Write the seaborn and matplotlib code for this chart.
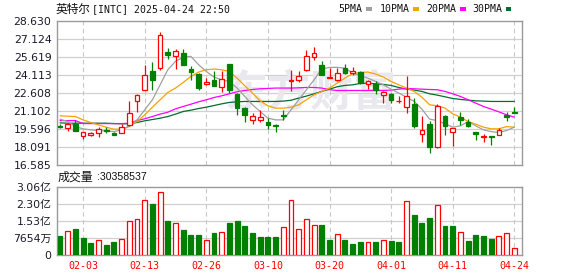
import matplotlib
matplotlib.use("Agg")
import matplotlib.pyplot as plt
import seaborn as sns
import numpy as np
from matplotlib.patches import Rectangle

# ---------------- data ----------------
dates = ["01-29", "01-30", "01-31", "02-03", "02-04", "02-05", "02-06", "02-07", "02-10", "02-11",
         "02-12", "02-13", "02-14", "02-18", "02-19", "02-20", "02-21", "02-24", "02-25", "02-26",
         "02-27", "02-28", "03-03", "03-04", "03-05", "03-06", "03-07", "03-10", "03-11", "03-12",
         "03-13", "03-14", "03-17", "03-18", "03-19", "03-20", "03-21", "03-24", "03-25", "03-26",
         "03-27", "03-28", "03-31", "04-01", "04-02", "04-03", "04-04", "04-07", "04-08", "04-09",
         "04-10", "04-11", "04-14", "04-15", "04-16", "04-17", "04-21", "04-22", "04-23", "04-24"]

opens = [19.83, 19.72, 20.03, 18.97, 19.13, 19.24, 19.50, 19.30, 19.30, 19.92,
         21.98, 22.88, 24.41, 24.66, 26.06, 25.67, 25.95, 24.58, 24.21, 23.35,
         23.71, 23.07, 25.05, 22.54, 21.37, 20.33, 20.33, 20.19, 19.94, 20.75,
         23.63, 23.71, 24.49, 25.61, 24.94, 23.85, 23.66, 24.69, 24.27, 24.35,
         23.38, 23.35, 22.43, 22.54, 21.93, 21.42, 21.70, 19.16, 20.03, 18.05,
         20.69, 19.33, 20.58, 20.17, 19.33, 18.94, 19.00, 19.10, 20.75, 21.06]
highs = [20.03, 20.00, 20.36, 19.38, 19.36, 19.80, 19.75, 19.36, 20.03, 21.90,
         22.54, 24.92, 25.22, 27.68, 26.37, 26.31, 26.31, 24.83, 24.27, 23.85,
         24.46, 24.46, 25.05, 22.60, 21.43, 20.92, 21.20, 20.50, 20.03, 21.20,
         24.55, 24.41, 26.23, 26.45, 25.28, 24.69, 24.69, 25.05, 24.77, 24.41,
         23.71, 23.58, 22.76, 22.60, 22.32, 23.99, 22.18, 20.69, 20.30, 21.70,
         20.78, 19.72, 21.06, 20.41, 19.38, 19.19, 19.00, 19.66, 21.03, 21.43]
lows = [19.64, 19.47, 19.41, 18.80, 19.05, 18.91, 19.24, 19.08, 19.24, 19.86,
        20.98, 22.82, 22.88, 24.55, 25.47, 24.61, 24.92, 23.66, 22.88, 23.27,
        23.16, 22.65, 22.60, 20.78, 20.22, 20.05, 20.22, 19.61, 19.33, 20.36,
        22.79, 23.55, 24.41, 25.39, 24.10, 23.85, 23.63, 24.18, 24.13, 23.38,
        22.93, 22.54, 21.81, 21.76, 21.76, 20.92, 19.72, 18.55, 17.63, 17.99,
        19.10, 18.21, 19.94, 19.80, 18.69, 18.55, 18.27, 19.08, 20.30, 20.92]
closes = [19.78, 20.00, 19.47, 19.33, 19.24, 19.58, 19.41, 19.10, 19.75, 20.92,
          22.46, 24.13, 23.66, 27.46, 25.75, 26.12, 24.92, 24.35, 23.04, 23.55,
          23.18, 23.77, 22.82, 21.37, 20.78, 20.72, 20.61, 19.94, 19.86, 20.69,
          23.69, 24.05, 25.72, 25.95, 24.13, 23.91, 24.27, 24.25, 24.41, 23.44,
          23.63, 22.88, 22.71, 22.04, 21.98, 22.37, 19.86, 19.52, 18.13, 21.48,
          19.86, 19.66, 20.36, 19.86, 19.19, 19.00, 18.94, 19.52, 20.64, 20.97]

volumes = [0.85e8, 1.06e8, 1.16e8, 0.76e8, 0.54e8, 0.66e8, 0.45e8, 0.58e8, 0.72e8, 1.51e8,
           1.64e8, 2.49e8, 2.31e8, 2.85e8, 1.52e8, 1.46e8, 1.12e8, 0.90e8, 0.90e8, 0.66e8,
           0.99e8, 1.02e8, 1.43e8, 1.52e8, 1.30e8, 0.99e8, 0.82e8, 0.82e8, 0.82e8, 1.28e8,
           2.46e8, 1.16e8, 1.61e8, 1.34e8, 1.34e8, 0.67e8, 0.93e8, 0.67e8, 0.49e8, 0.58e8,
           0.57e8, 0.58e8, 0.66e8, 0.63e8, 0.58e8, 2.45e8, 1.79e8, 1.43e8, 1.66e8, 2.27e8,
           1.30e8, 1.30e8, 1.02e8, 0.63e8, 0.90e8, 0.85e8, 0.72e8, 0.84e8, 0.97e8, 30358537]
vol_up = [0, 1, 0, 0, 0, 1, 0, 0, 1, 1,
          1, 1, 0, 1, 0, 1, 0, 0, 0, 1,
          0, 1, 0, 0, 0, 0, 0, 0, 0, 1,
          1, 1, 1, 1, 0, 0, 1, 0, 0, 0,
          1, 0, 1, 0, 0, 1, 0, 0, 0, 1,
          0, 0, 1, 0, 0, 0, 0, 1, 1, 1]

ma5 = [20.42, 20.22, 19.80, 19.61, 19.52, 19.47, 19.44, 19.38, 19.52, 19.86,
       20.36, 21.20, 22.04, 23.29, 24.55, 25.25, 25.61, 25.67, 24.97, 24.41,
       23.94, 23.71, 23.57, 23.02, 22.32, 21.62, 21.06, 20.50, 20.36, 20.36,
       21.20, 22.04, 22.88, 23.71, 24.61, 24.75, 24.75, 24.69, 24.27, 24.05,
       23.85, 23.57, 23.29, 22.93, 22.60, 22.26, 21.90, 21.26, 20.42, 20.30,
       20.03, 19.75, 19.86, 20.22, 19.86, 19.52, 19.38, 19.30, 19.47, 19.75]
ma10 = [20.70, 20.67, 20.64, 20.36, 20.14, 19.94, 19.75, 19.58, 19.58, 19.80,
        20.22, 20.78, 21.42, 22.04, 22.65, 23.02, 23.49, 23.99, 24.36, 24.55,
        24.61, 24.55, 24.41, 23.85, 23.21, 22.60, 21.95, 21.54, 21.34, 21.34,
        21.42, 21.62, 22.04, 22.46, 22.74, 23.02, 23.43, 23.85, 24.22, 24.33,
        24.36, 24.19, 23.94, 23.57, 23.29, 23.02, 22.74, 22.26, 21.62, 21.54,
        21.34, 20.87, 20.59, 20.22, 20.00, 19.75, 19.61, 19.61, 19.80, 19.75]
ma20 = [20.30, 20.30, 20.30, 20.05, 20.05, 20.05, 20.05, 20.05, 20.05, 20.08,
        20.30, 20.45, 20.64, 20.84, 21.00, 21.28, 21.48, 21.67, 21.87, 22.04,
        22.23, 22.37, 22.54, 22.71, 22.82, 22.90, 22.96, 22.99, 23.02, 23.02,
        23.02, 23.04, 23.07, 23.07, 23.02, 22.88, 22.82, 22.82, 22.82, 22.82,
        22.82, 22.82, 22.82, 22.85, 22.93, 22.99, 22.96, 22.93, 22.90, 22.88,
        22.74, 22.54, 22.32, 22.04, 21.76, 21.48, 21.26, 21.03, 20.78, 20.59]
ma30 = [20.11, 20.08, 20.08, 20.08, 20.08, 20.08, 20.08, 20.05, 20.03, 20.03,
        20.14, 20.28, 20.39, 20.50, 20.64, 20.84, 21.06, 21.17, 21.31, 21.42,
        21.56, 21.70, 21.82, 21.87, 21.90, 21.90, 21.90, 21.90, 21.90, 21.93,
        22.00, 22.18, 22.35, 22.54, 22.74, 22.93, 23.13, 23.24, 23.29, 23.41,
        23.43, 23.38, 23.32, 23.24, 23.07, 22.93, 22.85, 22.74, 22.54, 22.43,
        22.29, 22.15, 22.07, 22.01, 21.95, 21.93, 21.90, 21.90, 21.90, 21.90]

price_ticks = [16.585, 18.091, 19.596, 21.102, 22.608, 24.113, 25.619, 27.124, 28.630]
vol_ticks = [0, 0.7654e8, 1.5308e8, 2.2962e8, 3.0616e8]
vol_labels = ["0", "7654万", "1.53亿", "2.30亿", "3.06亿"]
tick_idx = [3, 11, 19, 27, 35, 43, 51, 59]
title_cn = "英特尔"
title_rest = "[INTC] 2025-04-24 22:50"
legend_names = ["5PMA", "10PMA", "20PMA", "30PMA"]
legend_colors = ["#a0a0a0", "#f5a300", "#ff00ff", "#006e2e"]

# ---------------- style ----------------
sns.set_theme(style="white")
plt.rcParams["font.family"] = ["DejaVu Sans", "Noto Sans CJK SC"]
plt.rcParams["axes.unicode_minus"] = False

RED = "#ff0000"
GREEN = "#008000"
SPINE = "#9a9a9a"
GRID = "#d0d0d0"
W, H = 578, 276

fig = plt.figure(figsize=(W / 100, H / 100), dpi=100)
fig.patch.set_facecolor("white")

def fx(x):
    return x / W

def fy(y):
    return 1 - y / H

ax = fig.add_axes([fx(57), fy(165), (522 - 57) / W, (165 - 21) / H])
vax = fig.add_axes([fx(57), fy(255), (522 - 57) / W, (255 - 187) / H])

n = len(closes)
idx = np.arange(n)
xlim = (-0.39, 60.0)

for a in (ax, vax):
    a.set_xlim(*xlim)
    a.set_facecolor("white")
    for s in a.spines.values():
        s.set_color(SPINE)
        s.set_linewidth(1.0)
    for t in tick_idx:
        a.axvline(t, color="#c8c8c8", lw=0.8, ls=(0, (4, 3)), zorder=0.5)

# price axis
ax.set_ylim(price_ticks[0], price_ticks[-1])
ax.set_yticks(price_ticks)
ax.set_yticklabels([f"{v:.3f}" for v in price_ticks])
for v in price_ticks[1:-1]:
    ax.axhline(v, color=GRID, lw=0.9, zorder=0.4)
ax.set_xticks([])
ax.tick_params(axis="y", length=3, width=0.8, color=SPINE, pad=1, labelsize=7.8,
               labelcolor="#1a1a2a")

# watermark
ax.text(0.545, 0.5, "东方财富", transform=ax.transAxes, fontsize=31,
        color="#e8e8ee", family=["Noto Sans CJK SC"], fontweight="bold",
        ha="center", va="center", zorder=0.6, style="italic")

# moving averages (seaborn)
for series, col in zip([ma30, ma20, ma10, ma5], legend_colors[::-1]):
    sns.lineplot(x=idx, y=series, ax=ax, color=col, lw=0.9, legend=False, zorder=3)

# candles
bw = 0.62
for i in range(n):
    o, h, l, c = opens[i], highs[i], lows[i], closes[i]
    up = c >= o
    col = RED if up else GREEN
    lo_b, hi_b = min(o, c), max(o, c)
    ax.vlines(i, hi_b, h, color=col, lw=0.9, zorder=4)
    ax.vlines(i, l, lo_b, color=col, lw=0.9, zorder=4)
    body = max(hi_b - lo_b, 0.001)
    ax.add_patch(Rectangle((i - bw / 2, lo_b), bw, body,
                           facecolor="white" if up else GREEN,
                           edgecolor=col, lw=0.9, zorder=5))
ax.set_xlabel("")
ax.set_ylabel("")

# volume axis
vax.set_ylim(0, vol_ticks[-1])
vax.set_yticks(vol_ticks)
vax.set_yticklabels(vol_labels)
for v in vol_ticks[1:-1]:
    vax.axhline(v, color=GRID, lw=0.9, zorder=0.4)
vax.tick_params(axis="y", length=3, width=0.8, color=SPINE, pad=1, labelsize=7.8,
                labelcolor="#1a1a2a")
vw = 0.64
for i in range(n):
    col = RED if vol_up[i] else GREEN
    vax.add_patch(Rectangle((i - vw / 2, 0), vw, volumes[i],
                            facecolor="white" if vol_up[i] else GREEN,
                            edgecolor=col, lw=0.9, zorder=3))
vax.set_xticks(tick_idx)
vax.set_xticklabels([dates[t] for t in tick_idx])
vax.tick_params(axis="x", length=0, pad=4, labelsize=7.2, labelcolor=RED)
for lab in vax.get_xticklabels():
    lab.set_family(["DejaVu Sans Mono"])

# title and legend
fig.text(fx(56), fy(9.5), title_cn, fontsize=8.4, family=["Noto Sans CJK SC"],
         ha="left", va="center", color="#111111")
fig.text(fx(92), fy(9.5), title_rest, fontsize=7.1, family=["DejaVu Sans Mono"],
         ha="left", va="center", color="#111111")

leg_text_x = [338, 380, 426, 472]
leg_box_x = [366, 413, 460, 505.5]
for name, col, tx, bx in zip(legend_names, legend_colors, leg_text_x, leg_box_x):
    fig.text(fx(tx), fy(9), name, fontsize=7.1, family=["DejaVu Sans Mono"],
             ha="left", va="center", color="#111111")
    fig.patches.append(Rectangle((fx(bx), fy(10.5)), 5.5 / W, 3.5 / H,
                                 transform=fig.transFigure, facecolor=col,
                                 edgecolor="none", figure=fig))

fig.text(fx(58), fy(177), "成交量", fontsize=8.6, family=["Noto Sans CJK SC"],
         ha="left", va="center", color="#111111")
fig.text(fx(97), fy(177), ":30358537", fontsize=7.6, family=["Liberation Sans"],
         ha="left", va="center", color="#111111")

fig.savefig("out.png", dpi=100, facecolor="white")
